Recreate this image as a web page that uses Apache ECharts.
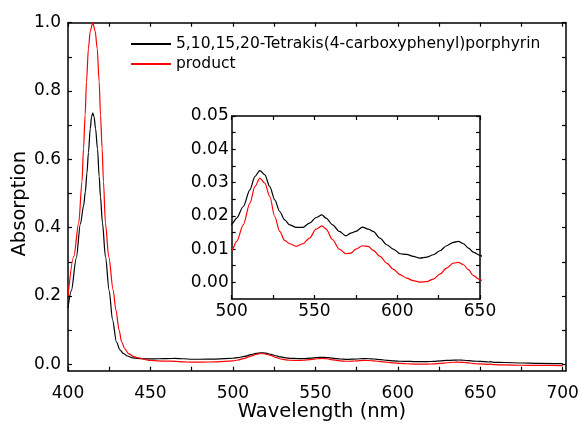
<!DOCTYPE html>
<html><head><meta charset="utf-8">
<script src="https://cdn.jsdelivr.net/npm/echarts@6/dist/echarts.min.js"></script>
<style>html,body{margin:0;padding:0;background:#fff}#c{width:584px;height:430px}</style>
</head><body><div id="c"></div>
<script>
const seriesNames = ['5,10,15,20-Tetrakis(4-carboxyphenyl)porphyrin', 'product'];
const blackWl = [400,402,405,407.5,409.5,410.5,411.5,412.4,413.5,414.3,415,415.8,416.7,417.9,418.9,419.7,420.9,422.7,425,427,429.4,431.5,433.5,436,439.4,445,450,455,460,465,470,475,480,490,
  500,503,507,511,514,517,520,523,526,529,532,535,539,543,547,551,554.5,557,561,565,569,572,575,579,582.5,585.5,589.6,593.6,597.6,601.7,605.7,609.7,613.7,617.8,621.8,625.8,629.8,633.9,636.9,640,643,646,650,
  655,656.5,658,665,675,685,700];
const blackAbs = [0.165,0.215,0.31,0.41,0.465,0.505,0.56,0.62,0.69,0.725,0.735,0.725,0.69,0.63,0.55,0.49,0.413,0.315,0.215,0.13,0.065,0.042,0.032,0.024,0.0185,0.016,0.0155,0.016,0.0165,0.017,0.016,0.0145,0.0145,0.015,
  0.0175,0.0193,0.0228,0.0278,0.0318,0.0336,0.0323,0.0288,0.0248,0.0213,0.0188,0.0173,0.0165,0.0165,0.0178,0.0195,0.0203,0.0193,0.0173,0.0153,0.014,0.0148,0.0153,0.0166,0.016,0.0153,0.0133,0.0113,0.010,0.0086,0.0084,0.0078,0.0073,0.0076,0.0083,0.0095,0.011,0.012,0.0123,0.0116,0.0103,0.0091,0.0081,
  0.0065,0.0075,0.0055,0.005,0.0035,0.0025,0.0015];
const redWl = [400,403.5,406.5,408.5,409.4,410.4,411.2,412.4,413.5,415,416.5,417.7,418.9,419.7,420.7,421.5,422.7,424.7,427.4,429,431,432.5,434.5,436.5,440,443.6,447,450,455,460,465,470,475,480,490,
  500,503,507,511,514,517,520,523,526,529,532,535,539,543,547,551,554.5,557,561,565,569,572,575,579,582.5,585.5,589.6,593.6,597.6,601.7,605.7,609.7,613.7,617.8,621.8,625.8,629.8,633.9,636.9,640,643,646,650,
  655,656.5,658,665,675,685,700];
const redAbs = [0.2,0.315,0.413,0.535,0.632,0.73,0.827,0.925,0.975,1.0,0.975,0.925,0.827,0.73,0.632,0.535,0.413,0.315,0.217,0.16,0.1,0.065,0.045,0.032,0.022,0.0176,0.013,0.011,0.0095,0.009,0.0085,0.007,0.006,0.006,0.007,
  0.0096,0.0123,0.0173,0.0238,0.0288,0.0313,0.0298,0.0258,0.0198,0.0153,0.0126,0.0116,0.0108,0.0116,0.0133,0.016,0.017,0.016,0.0128,0.010,0.0086,0.0088,0.010,0.011,0.0108,0.0096,0.0078,0.0058,0.004,0.0023,0.0013,0.0005,0.0001,0.0002,0.001,0.0025,0.0043,0.0058,0.006,0.0053,0.0038,0.002,0.0008,
  -0.0005,0.0005,-0.0015,-0.002,-0.003,-0.0035,-0.004];

const mainXLabels = [400,450,500,550,600,650,700];
const mainXTicks = [400,425,450,475,500,525,550,575,600,625,650,675,700];
const mainYLabels = [0,0.2,0.4,0.6,0.8,1.0];
const mainYTicks = [0,0.1,0.2,0.3,0.4,0.5,0.6,0.7,0.8,0.9,1.0];
const insetXLabels = [500,550,600,650];
const insetXTicks = [500,525,550,575,600,625,650];
const insetYLabels = [0,0.01,0.02,0.03,0.04,0.05];
const insetYTicks = [0,0.005,0.01,0.015,0.02,0.025,0.03,0.035,0.04,0.045,0.05];

const FONT = 'DejaVu Sans';
const colors = ['#000000', '#ff0000'];

function axis(grid, pos, min, max, ticks, labels, opt) {
  opt = opt || {};
  return Object.assign({
    type: 'value', gridIndex: grid, position: pos, min: min, max: max,
    axisLine: { show: true, onZero: false, lineStyle: { color: '#000', width: 1.5 } },
    axisTick: { show: true, inside: true, length: 4, customValues: ticks, lineStyle: { color: '#000', width: 1.2 } },
    axisLabel: labels ? { show: true, customValues: labels, color: '#000', fontFamily: FONT, fontSize: 17,
      margin: opt.margin, formatter: opt.fmt } : { show: false },
    splitLine: { show: false }
  }, opt.extra || {});
}

const pairs = (xs, ys) => xs.map((x, i) => [x, ys[i]]);
const blackData = pairs(blackWl, blackAbs);
const redData = pairs(redWl, redAbs);

function line(name, data, color, xi, yi) {
  return { type: 'line', name: name, data: data, xAxisIndex: xi, yAxisIndex: yi,
    symbol: 'none', smooth: 0.3, smoothMonotone: 'x', clip: true,
    lineStyle: { color: color, width: 1.2 }, itemStyle: { color: color }, animation: false };
}

const chart = echarts.init(document.getElementById('c'), null, { renderer: 'canvas' });
chart.setOption({
  animation: false,
  backgroundColor: '#fff',
  grid: [
    { left: 68, top: 22.7, width: 498, height: 348, outerBoundsMode: 'none', containLabel: false },
    { left: 231.7, top: 116, width: 248.3, height: 183, outerBoundsMode: 'none', containLabel: false }
  ],
  legend: {
    data: seriesNames, orient: 'vertical', left: 125, top: 31, padding: 5,
    itemWidth: 40, itemHeight: 16, itemGap: 4,
    itemStyle: { opacity: 0, borderWidth: 0 },
    textStyle: { color: '#000', fontFamily: FONT, fontSize: 15.5, lineHeight: 16 }
  },
  xAxis: [
    axis(0, 'bottom', 400, 702, mainXTicks, mainXLabels, { margin: 14, fmt: v => String(v),
      extra: { name: 'Wavelength (nm)', nameLocation: 'middle', nameGap: 31, nameMoveOverlap: false,
        nameTextStyle: { color: '#000', fontFamily: FONT, fontSize: 19.5, padding: [0, 0, 0, 10] } } }),
    axis(0, 'top', 400, 702, mainXTicks, null),
    axis(1, 'bottom', 500, 650, insetXTicks, insetXLabels, { margin: 4, fmt: v => String(v) }),
    axis(1, 'top', 500, 650, insetXTicks, null)
  ],
  yAxis: [
    axis(0, 'left', -0.019, 1.0, mainYTicks, mainYLabels, { margin: 7, fmt: v => v.toFixed(1),
      extra: { name: 'Absorption', nameLocation: 'middle', nameGap: 38, nameMoveOverlap: false,
        nameTextStyle: { color: '#000', fontFamily: FONT, fontSize: 19.5, padding: [0, 14, 0, 0] } } }),
    axis(0, 'right', -0.019, 1.0, mainYTicks, null),
    axis(1, 'left', -0.005, 0.05, insetYTicks, insetYLabels, { margin: 3, fmt: v => v.toFixed(2) }),
    axis(1, 'right', -0.005, 0.05, insetYTicks, null)
  ],
  series: [
    line(seriesNames[0], blackData, colors[0], 0, 0),
    line(seriesNames[1], redData, colors[1], 0, 0),
    line(seriesNames[0], blackData, colors[0], 2, 2),
    line(seriesNames[1], redData, colors[1], 2, 2)
  ]
});
</script>
</body></html>
